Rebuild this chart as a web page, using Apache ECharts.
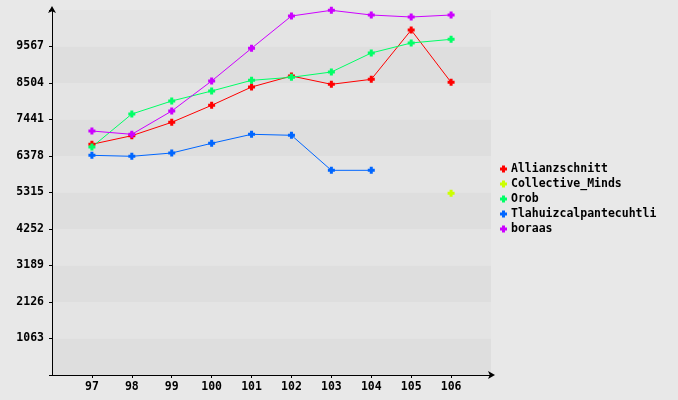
<!DOCTYPE html>
<html>
<head>
<meta charset="utf-8">
<script src="https://cdn.jsdelivr.net/npm/echarts@6/dist/echarts.min.js"></script>
<style>
html,body{margin:0;padding:0;background:#e8e8e8;}
#chart{width:678px;height:400px;}
</style>
</head>
<body>
<div id="chart"></div>
<script>
var categories = ['97','98','99','100','101','102','103','104','105','106'];
var seriesNames = ['Allianzschnitt','Collective_Minds','Orob','Tlahuizcalpantecuhtli','boraas'];
var allianzschnitt = [6719, 6970, 7359, 7854, 8387, 8708, 8466, 8611, 10047, 8524];
var collectiveMinds = [null, null, null, null, null, null, null, null, null, 5291];
var orob = [6640, 7601, 7980, 8271, 8582, 8670, 8824, 9378, 9669, 9776];
var tlahuiz = [6398, 6369, 6465, 6748, 7010, 6981, 5961, 5961, null, null];
var boraas = [7106, 7010, 7688, 8562, 9515, 10455, 10621, 10484, 10426, 10484];
var yTicks = [1063, 2126, 3189, 4252, 5315, 6378, 7441, 8504, 9567];
var colors = ['#ff0000', '#ccff00', '#00ff66', '#0066ff', '#cc00ff'];

var yStep = 1063;
var yMax = 10630;
var axisCats = [''].concat(categories, ['']);
function pad(arr){ return [null].concat(arr, [null]); }
var allData = [allianzschnitt, collectiveMinds, orob, tlahuiz, boraas];
var plus = 'path://M2,0H5V2H7V5H5V7H2V5H0V2H2Z';
var font = '"DejaVu Sans Mono", monospace';

var series = seriesNames.map(function(n, i){
  return {
    name: n, type: 'line', data: pad(allData[i]),
    symbol: plus, symbolSize: 7, showAllSymbol: true,
    connectNulls: false, animation: false,
    lineStyle: {width: 1, color: colors[i]},
    itemStyle: {color: colors[i]}
  };
});

var chart = echarts.init(document.getElementById('chart'));
chart.setOption({
  backgroundColor: '#e8e8e8',
  animation: false,
  grid: {left: 52, top: 10, right: 187, bottom: 25},
  legend: {
    orient: 'vertical', left: 495, top: 158, itemGap: 3,
    itemWidth: 7, itemHeight: 7, icon: plus,
    data: seriesNames.map(function(n, i){ return {name: n, itemStyle: {color: colors[i]}}; }),
    textStyle: {fontFamily: font, fontWeight: 'bold', fontSize: 11.5, color: '#000', padding: [0,0,0,-1]}
  },
  xAxis: {
    type: 'category', data: axisCats, boundaryGap: false,
    axisLine: {lineStyle: {color: '#000', width: 1}, symbol: ['none', 'arrow'], symbolSize: [6, 7], symbolOffset: [0, 4]},
    axisTick: {length: 3, lineStyle: {color: '#000'}, interval: function(i){ return i > 0 && i < axisCats.length - 1; }},
    axisLabel: {interval: 0, margin: 6, color: '#000', fontFamily: font, fontWeight: 'bold', fontSize: 11.5},
    splitLine: {show: false}
  },
  yAxis: {
    type: 'value', min: 0, max: yMax, interval: yStep,
    axisLine: {show: true, lineStyle: {color: '#000', width: 1}, symbol: ['none', 'arrow'], symbolSize: [6, 7], symbolOffset: [0, 4]},
    axisTick: {show: true, length: 3, lineStyle: {color: '#000'}},
    axisLabel: {
      margin: 8, color: '#000', fontFamily: font, fontWeight: 'bold', fontSize: 11.5,
      formatter: function(v){ return yTicks.indexOf(v) >= 0 ? String(v) : ''; }
    },
    splitLine: {show: false},
    splitArea: {show: true, areaStyle: {color: ['#dedede', '#e4e4e4']}}
  },
  series: series
});
</script>
</body>
</html>
